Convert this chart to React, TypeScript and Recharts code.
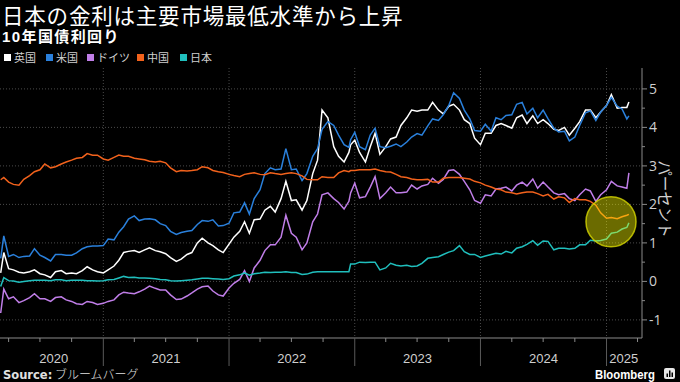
import React from "react";
import { LineChart, Line, XAxis, YAxis, CartesianGrid, ReferenceDot } from "recharts";

// 10年国債利回り、半月ごとに読み取り
const dates = [
  "2020-03-09", "2020-03-18", "2020-04-01", "2020-04-15", "2020-05-01", "2020-05-15", "2020-06-01", "2020-06-15",
  "2020-07-01", "2020-07-15", "2020-08-01", "2020-08-15", "2020-09-01", "2020-09-15", "2020-10-01", "2020-10-15",
  "2020-11-01", "2020-11-15", "2020-12-01", "2020-12-15",
  "2021-01-01", "2021-01-15", "2021-02-01", "2021-02-15", "2021-03-01", "2021-03-15", "2021-04-01", "2021-04-15",
  "2021-05-01", "2021-05-15", "2021-06-01", "2021-06-15", "2021-07-01", "2021-07-15", "2021-08-01", "2021-08-15",
  "2021-09-01", "2021-09-15", "2021-10-01", "2021-10-15", "2021-11-01", "2021-11-15", "2021-12-01", "2021-12-15",
  "2022-01-01", "2022-01-15", "2022-02-01", "2022-02-15", "2022-03-01", "2022-03-15", "2022-04-01", "2022-04-15",
  "2022-05-01", "2022-05-15", "2022-06-01", "2022-06-15", "2022-07-01", "2022-07-15", "2022-08-01", "2022-08-15",
  "2022-09-01", "2022-09-15", "2022-09-28", "2022-10-15", "2022-11-01", "2022-11-15", "2022-12-01", "2022-12-15",
  "2022-12-20",
  "2023-01-01", "2023-01-15", "2023-02-01", "2023-02-15", "2023-03-01", "2023-03-15", "2023-04-01", "2023-04-15",
  "2023-05-01", "2023-05-15", "2023-06-01", "2023-06-15", "2023-07-01", "2023-07-15", "2023-08-01", "2023-08-15",
  "2023-09-01", "2023-09-15", "2023-10-01", "2023-10-15", "2023-11-01", "2023-11-15", "2023-12-01", "2023-12-15",
  "2024-01-01", "2024-01-15", "2024-02-01", "2024-02-15", "2024-03-01", "2024-03-15", "2024-04-01", "2024-04-15",
  "2024-05-01", "2024-05-15", "2024-06-01", "2024-06-15", "2024-07-01", "2024-07-15", "2024-08-01", "2024-08-15",
  "2024-09-01", "2024-09-15", "2024-10-01", "2024-10-15", "2024-11-01", "2024-11-15", "2024-12-01", "2024-12-15",
  "2025-01-01", "2025-01-15", "2025-02-01", "2025-02-15", "2025-03-01", "2025-03-07",
];

const uk = [
  0.22, 0.75, 0.33, 0.30, 0.24, 0.22, 0.25, 0.30, 0.20, 0.17, 0.10, 0.25, 0.28, 0.20, 0.22, 0.20, 0.28, 0.38, 0.30, 0.25,
  0.22, 0.30, 0.40, 0.55, 0.75, 0.78, 0.80, 0.75, 0.82, 0.87, 0.80, 0.77, 0.72, 0.62, 0.52, 0.58, 0.70, 0.75, 1.00, 1.12, 1.00, 0.93, 0.82, 0.75,
  0.97, 1.15, 1.30, 1.55, 1.25, 1.60, 1.62, 1.85, 1.95, 1.80, 2.15, 2.60, 2.10, 2.12, 1.85, 2.10, 2.80, 3.15, 4.45, 4.25, 3.50, 3.25, 3.10, 3.35, 3.55,
  3.67, 3.35, 3.10, 3.50, 3.85, 3.30, 3.50, 3.70, 3.75, 4.05, 4.25, 4.45, 4.42, 4.45, 4.45, 4.65, 4.45, 4.35, 4.55, 4.60, 4.45, 4.20, 4.10, 3.72,
  3.55, 3.85, 3.85, 4.05, 4.10, 4.05, 3.98, 4.25, 4.32, 4.10, 4.30, 4.10, 4.20, 4.10, 3.95, 3.92, 4.00, 3.80, 3.98, 4.15, 4.45, 4.45, 4.25, 4.40,
  4.57, 4.85, 4.50, 4.52, 4.52, 4.66,
];

const us = [
  0.60, 1.18, 0.65, 0.70, 0.62, 0.65, 0.66, 0.85, 0.68, 0.62, 0.53, 0.70, 0.70, 0.68, 0.68, 0.74, 0.85, 0.90, 0.92, 0.92,
  0.93, 1.10, 1.08, 1.28, 1.42, 1.62, 1.70, 1.58, 1.62, 1.63, 1.60, 1.50, 1.45, 1.30, 1.22, 1.27, 1.30, 1.32, 1.48, 1.58, 1.56, 1.60, 1.44, 1.45,
  1.51, 1.78, 1.80, 2.04, 1.75, 2.15, 2.38, 2.80, 2.95, 2.90, 2.92, 3.45, 2.90, 2.92, 2.62, 2.80, 3.25, 3.45, 3.95, 4.15, 4.05, 3.80, 3.55, 3.48, 3.68,
  3.87, 3.50, 3.42, 3.80, 3.98, 3.50, 3.47, 3.51, 3.57, 3.50, 3.62, 3.75, 3.84, 3.80, 4.04, 4.22, 4.18, 4.33, 4.57, 4.90, 4.75, 4.45, 4.22, 3.92,
  3.90, 4.08, 3.90, 4.25, 4.20, 4.31, 4.33, 4.60, 4.65, 4.35, 4.50, 4.25, 4.45, 4.23, 3.98, 3.88, 3.90, 3.65, 3.75, 4.05, 4.38, 4.43, 4.18, 4.40,
  4.57, 4.78, 4.55, 4.48, 4.22, 4.30,
];

const de = [
  -0.82, -0.20, -0.45, -0.40, -0.55, -0.50, -0.42, -0.32, -0.45, -0.45, -0.52, -0.42, -0.40, -0.48, -0.52, -0.58, -0.60, -0.52, -0.55, -0.60,
  -0.57, -0.52, -0.48, -0.35, -0.28, -0.30, -0.32, -0.27, -0.20, -0.12, -0.18, -0.22, -0.22, -0.35, -0.47, -0.46, -0.38, -0.30, -0.20, -0.14, -0.12, -0.25, -0.35, -0.38,
  -0.17, -0.05, 0.05, 0.28, 0.00, 0.35, 0.55, 0.80, 0.95, 0.95, 1.15, 1.72, 1.25, 1.15, 0.82, 1.00, 1.55, 1.75, 2.25, 2.30, 2.15, 2.05, 1.88, 2.08, 2.30,
  2.55, 2.17, 2.20, 2.45, 2.72, 2.15, 2.30, 2.45, 2.30, 2.30, 2.32, 2.50, 2.40, 2.48, 2.52, 2.68, 2.55, 2.65, 2.88, 2.90, 2.78, 2.60, 2.38, 2.10,
  2.03, 2.25, 2.22, 2.40, 2.42, 2.45, 2.35, 2.50, 2.58, 2.48, 2.66, 2.42, 2.58, 2.45, 2.30, 2.25, 2.28, 2.15, 2.10, 2.25, 2.40, 2.35, 2.08, 2.25,
  2.38, 2.60, 2.48, 2.45, 2.42, 2.82,
];

const cn = [
  2.64, 2.70, 2.58, 2.52, 2.50, 2.65, 2.75, 2.85, 2.90, 3.05, 2.95, 2.98, 3.05, 3.10, 3.15, 3.20, 3.22, 3.32, 3.28, 3.28,
  3.18, 3.15, 3.22, 3.28, 3.25, 3.25, 3.20, 3.18, 3.16, 3.12, 3.10, 3.12, 3.08, 2.95, 2.85, 2.88, 2.87, 2.88, 2.90, 2.98, 2.95, 2.88, 2.85, 2.83,
  2.78, 2.75, 2.72, 2.78, 2.80, 2.82, 2.78, 2.77, 2.82, 2.80, 2.78, 2.80, 2.82, 2.80, 2.74, 2.65, 2.64, 2.64, 2.72, 2.70, 2.70, 2.82, 2.88, 2.85, 2.88,
  2.88, 2.90, 2.90, 2.90, 2.92, 2.88, 2.85, 2.84, 2.78, 2.72, 2.70, 2.66, 2.64, 2.64, 2.65, 2.58, 2.58, 2.68, 2.70, 2.70, 2.70, 2.68, 2.66, 2.60,
  2.56, 2.50, 2.45, 2.40, 2.38, 2.32, 2.30, 2.27, 2.30, 2.32, 2.32, 2.28, 2.22, 2.26, 2.14, 2.20, 2.17, 2.05, 2.15, 2.12, 2.12, 2.08, 1.98, 1.78,
  1.64, 1.66, 1.63, 1.68, 1.72, 1.74,
];

const jp = [
  -0.13, 0.10, 0.02, 0.01, -0.02, 0.00, 0.02, 0.03, 0.03, 0.03, 0.02, 0.04, 0.04, 0.02, 0.03, 0.03, 0.03, 0.02, 0.02, 0.01,
  0.02, 0.04, 0.05, 0.09, 0.13, 0.10, 0.11, 0.09, 0.09, 0.08, 0.07, 0.05, 0.04, 0.02, 0.01, 0.02, 0.03, 0.04, 0.06, 0.08, 0.08, 0.07, 0.06, 0.05,
  0.07, 0.14, 0.17, 0.22, 0.16, 0.20, 0.22, 0.24, 0.23, 0.24, 0.24, 0.25, 0.23, 0.23, 0.18, 0.19, 0.24, 0.25, 0.25, 0.25, 0.25, 0.25, 0.25, 0.25, 0.45,
  0.45, 0.50, 0.49, 0.50, 0.50, 0.30, 0.35, 0.47, 0.42, 0.40, 0.42, 0.39, 0.40, 0.47, 0.60, 0.62, 0.64, 0.70, 0.76, 0.80, 0.93, 0.77, 0.70, 0.70,
  0.62, 0.66, 0.70, 0.73, 0.71, 0.78, 0.74, 0.86, 0.90, 0.96, 1.06, 0.94, 1.05, 1.04, 0.82, 0.86, 0.86, 0.84, 0.86, 0.95, 0.95, 1.07, 1.05, 1.06,
  1.10, 1.25, 1.28, 1.36, 1.40, 1.52,
];

const seriesNames = ["英国", "米国", "ドイツ", "中国", "日本"];
const seriesKeys = ["uk", "us", "de", "cn", "jp"];
const seriesColors = ["#ffffff", "#2a80dc", "#c07ee8", "#f2621c", "#20bfbd"];
const legendLeft = [4, 46, 87, 137, 180];

const yearStarts = ["2021-01-01", "2022-01-01", "2023-01-01", "2024-01-01", "2025-01-01"];
const quarterTicks = [
  "2020-04-01", "2020-07-01", "2020-10-01",
  "2021-04-01", "2021-07-01", "2021-10-01",
  "2022-04-01", "2022-07-01", "2022-10-01",
  "2023-04-01", "2023-07-01", "2023-10-01",
  "2024-04-01", "2024-07-01", "2024-10-01",
  "2025-04-01",
];
const yearLabels = ["2020", "2021", "2022", "2023", "2024", "2025"];
const yearLabelDates = ["2020-08-10", "2021-07-02", "2022-07-02", "2023-07-02", "2024-07-02", "2025-02-20"];
const yTicks = [-1, 0, 1, 2, 3, 4, 5];
const yMinorTicks = [-0.5, 0.5, 1.5, 2.5, 3.5, 4.5];

const ts = (d: string) => Date.parse(d + "T00:00:00Z");

const rows = dates.map((d, i) => ({
  t: ts(d),
  uk: uk[i],
  us: us[i],
  de: de[i],
  cn: cn[i],
  jp: jp[i],
}));

const yearStartTs = yearStarts.map(ts);
const labelTs = yearLabelDates.map(ts);
const xTicks = [...yearStartTs, ...quarterTicks.map(ts), ...labelTs].sort((a, b) => a - b);

const axisGray = "#8a8a8a";
const textGray = "#cfcfcf";
const latinFirst = "'Liberation Sans', 'Noto Sans CJK JP', sans-serif";

const XTick = (props: any) => {
  const { x, y, payload } = props;
  const v = payload.value;
  const li = labelTs.indexOf(v);
  if (li >= 0) {
    return (
      <text x={x} y={y + 24.5} textAnchor="middle" fill={textGray} fontSize={13} fontFamily="'Liberation Sans', sans-serif">
        {yearLabels[li]}
      </text>
    );
  }
  const long = yearStartTs.includes(v);
  return <line x1={x} x2={x} y1={y} y2={y + (long ? 28 : 4)} stroke={long ? "#5a5a5a" : axisGray} strokeWidth={1} />;
};

const YTick = (props: any) => {
  const { x, y, payload } = props;
  const v = payload.value;
  const major = yTicks.includes(v);
  return (
    <g>
      <line x1={x} x2={x + (major ? 5 : 3)} y1={y} y2={y} stroke={axisGray} />
      {major && (
        <text x={x + 7} y={y + 5} fill={textGray} fontSize={14} fontFamily="'Open Sans', sans-serif">
          {v}
        </text>
      )}
    </g>
  );
};

export default function App() {
  return (
    <div style={{ position: "absolute", left: 0, top: 0, width: 680, height: 382, background: "#000", overflow: "hidden" }}>
      <LineChart
        width={680}
        height={382}
        data={rows}
        margin={{ top: 68, right: 0, bottom: 0, left: 0 }}
        style={{ position: "absolute", left: 0, top: 0 }}
      >
        <CartesianGrid
          stroke="#4a4a4a"
          strokeDasharray="1 2"
          horizontalValues={yTicks}
          verticalValues={yearStartTs}
        />
        <XAxis
          dataKey="t"
          type="number"
          domain={[ts("2020-03-07"), ts("2025-04-14")]}
          ticks={xTicks}
          interval={0}
          height={44}
          tickSize={0}
          tickMargin={0}
          axisLine={{ stroke: axisGray }}
          tick={(p: any) => <XTick {...p} />}
          allowDataOverflow
        />
        <YAxis
          orientation="right"
          type="number"
          domain={[-1.47, 5.543]}
          ticks={[...yTicks, ...yMinorTicks].sort((a, b) => a - b)}
          interval={0}
          width={38}
          tickSize={0}
          tickMargin={0}
          axisLine={{ stroke: axisGray }}
          tick={(p: any) => <YTick {...p} />}
          allowDataOverflow
        />
        {seriesKeys.map((k, i) => (
          <Line
            key={k}
            dataKey={k}
            type="linear"
            stroke={seriesColors[i]}
            strokeWidth={1.5}
            dot={false}
            isAnimationActive={false}
          />
        ))}
        <ReferenceDot
          x={ts("2025-01-14")}
          y={1.55}
          r={25}
          fill="#ffff00"
          fillOpacity={0.42}
          stroke="#d8d800"
          strokeOpacity={0.8}
          strokeWidth={1.5}
        />
      </LineChart>

      <div
        style={{
          position: "absolute",
          left: 2,
          top: 4.5,
          color: "#fff",
          fontSize: 21.5,
          lineHeight: 1.117,
          letterSpacing: 0.8,
          fontFamily: latinFirst,
          whiteSpace: "nowrap",
        }}
      >
        日本の金利は主要市場最低水準から上昇
      </div>
      <div
        style={{
          position: "absolute",
          left: 2,
          top: 29,
          color: "#fff",
          fontSize: 15,
          lineHeight: 1.117,
          letterSpacing: 1.4,
          fontWeight: 700,
          fontFamily: latinFirst,
          whiteSpace: "nowrap",
        }}
      >
        10年国債利回り
      </div>
      {seriesNames.map((n, i) => (
        <div
          key={n}
          style={{
            position: "absolute",
            left: legendLeft[i],
            top: 50,
            display: "flex",
            alignItems: "center",
            fontSize: 11,
            lineHeight: "14px",
            color: textGray,
            fontFamily: "'Noto Sans CJK JP', sans-serif",
            whiteSpace: "nowrap",
          }}
        >
          <span style={{ width: 7, height: 7, background: seriesColors[i], marginRight: 3, display: "inline-block" }} />
          {n}
        </div>
      ))}

      <svg width={26} height={120} style={{ position: "absolute", left: 650, top: 140 }}>
        <text
          transform="translate(9,59) rotate(90)"
          textAnchor="middle"
          fill={textGray}
          fontSize={15.5}
          fontFamily={latinFirst}
        >
          パーセント
        </text>
      </svg>

      <div
        style={{
          position: "absolute",
          left: 3,
          top: 366,
          fontSize: 12,
          lineHeight: "15px",
          color: "#e0e0e0",
          fontFamily: "'Noto Sans CJK JP', sans-serif",
          whiteSpace: "nowrap",
        }}
      >
        <b style={{ fontFamily: "'DejaVu Sans', sans-serif", fontSize: 11.5 }}>Source:</b>{" "}
        <span style={{ fontWeight: 300 }}>ブルームバーグ</span>
      </div>
      <div
        style={{
          position: "absolute",
          left: 595,
          top: 366.5,
          fontSize: 13.5,
          lineHeight: 1.117,
          color: "#fff",
          fontWeight: 700,
          fontFamily: "'Liberation Sans', sans-serif",
          transform: "scaleX(0.84)",
          transformOrigin: "left center",
          whiteSpace: "nowrap",
        }}
      >
        Bloomberg
      </div>
      <svg width={11} height={11} style={{ position: "absolute", left: 664, top: 368 }}>
        <rect x={0} y={0} width={11} height={11} rx={2} fill="#e8e8e8" />
        <rect x={2.5} y={5.5} width={1.5} height={3.5} fill="#000" />
        <rect x={5} y={2.5} width={1.5} height={6.5} fill="#000" />
        <rect x={7.5} y={4.5} width={1.5} height={4.5} fill="#000" />
      </svg>
    </div>
  );
}
